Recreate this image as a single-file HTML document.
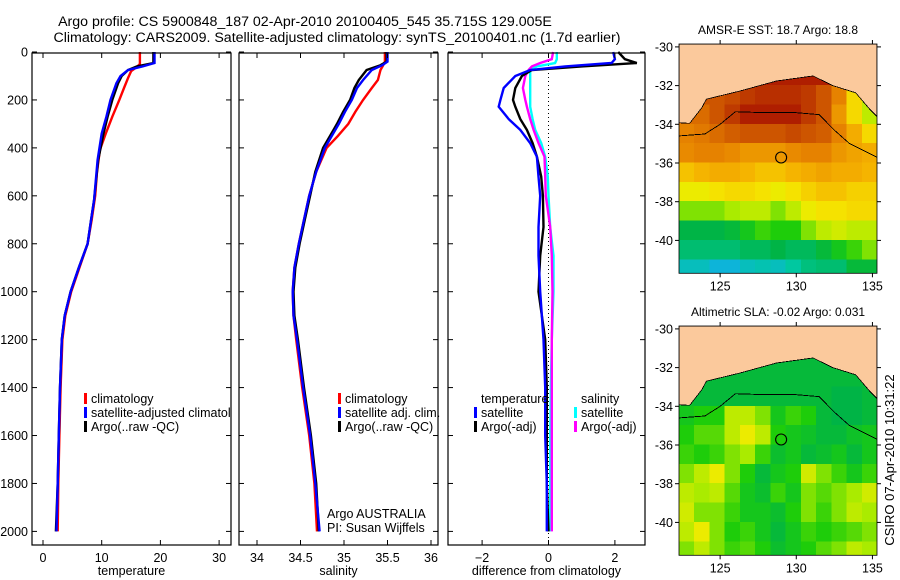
<!DOCTYPE html>
<html><head><meta charset="utf-8"><style>
body{margin:0;background:#fff;}
svg{display:block;font-family:"Liberation Sans",sans-serif;}
</style></head><body>
<svg id="fig" width="900" height="580" viewBox="0 0 900 580">
<text x="305" y="26" font-size="14.2" text-anchor="middle">Argo profile: CS 5900848_187 02-Apr-2010 20100405_545 35.715S 129.005E</text>
<text x="337" y="42" font-size="14.2" text-anchor="middle">Climatology: CARS2009. Satellite-adjusted climatology: synTS_20100401.nc (1.7d earlier)</text>
<g id="plots"></g>
<text transform="translate(894,460) rotate(-90)" font-size="13" text-anchor="middle">CSIRO 07-Apr-2010 10:31:22</text>
</svg>
<script>
// ---------- data ----------
const depthTicks=[0,200,400,600,800,1000,1200,1400,1600,1800,2000];
const tempTicks=[0,10,20,30];
const salTicks=[34,34.5,35,35.5,36];
const diffTicks=[-2,0,2];
const tempClimDepth=[0,50,62,80,108,150,200,270,340,408,500,600,700,800,900,1000,1100,1200,1400,1600,1800,2000];
const tempClim=[16.5,16.5,16,15,14.5,13.8,13,11.8,10.7,9.7,9.2,8.9,8.3,7.6,6.2,4.8,3.8,3.3,3.0,2.8,2.6,2.5];
const tempDepth=[0,46,60,75,100,130,200,270,340,450,617,700,800,900,1000,1100,1200,1400,1600,1800,2000];
const tempSat=[19,19,17,14.5,13.2,12.5,11.5,10.8,10,9.3,8.7,8.2,7.6,6.1,4.7,3.7,3.2,2.9,2.7,2.5,2.3];
const tempArgo=[18.8,18.8,16,14.5,13.4,12.8,11.8,11,10.3,9.4,8.7,8.2,7.6,6.1,4.7,3.7,3.2,2.9,2.7,2.5,2.2];
const salDepth=[0,40,55,75,117,150,200,250,300,350,400,500,600,700,800,900,1000,1100,1200,1400,1600,1800,2000];
const salClim=[35.47,35.47,35.45,35.42,35.39,35.32,35.22,35.13,35.05,34.93,34.8,34.68,34.6,34.54,34.48,34.43,34.41,34.42,34.45,34.52,34.6,34.66,34.69];
const salSat=[35.5,35.5,35.44,35.32,35.22,35.15,35.09,35.01,34.94,34.86,34.78,34.68,34.6,34.54,34.48,34.43,34.41,34.42,34.46,34.53,34.61,34.67,34.72];
const salArgo=[35.49,35.49,35.42,35.26,35.17,35.12,35.07,34.99,34.92,34.84,34.76,34.67,34.61,34.55,34.49,34.44,34.42,34.43,34.47,34.54,34.62,34.68,34.71];
const diffDepth=[0,30,46,60,75,100,150,200,228,280,325,380,437,520,600,730,850,1000,1200,1400,1600,1800,2000];
const diffTSat=[1.95,2.0,1.9,0.5,-0.55,-1.0,-1.35,-1.45,-1.5,-1.2,-0.85,-0.55,-0.35,-0.3,-0.25,-0.3,-0.3,-0.25,-0.15,-0.1,-0.1,-0.05,-0.05];
const diffTArgo=[2.1,2.3,2.66,1.0,-0.5,-0.8,-1.0,-1.07,-1.0,-0.85,-0.65,-0.48,-0.35,-0.22,-0.17,-0.15,-0.25,-0.3,-0.1,-0.05,-0.05,-0.05,0];
const diffSArgo=[0.14,0.1,-0.25,-0.5,-0.6,-0.7,-0.77,-0.7,-0.65,-0.55,-0.45,-0.3,-0.12,-0.1,-0.08,0.05,0.1,0.12,0.1,0.1,0.1,0.1,0.1];
const diffSSat=[0.25,0.25,0.2,-0.35,-0.55,-0.55,-0.55,-0.55,-0.55,-0.48,-0.4,-0.22,-0.1,-0.02,0,0.05,0.15,0.15,0.1,0.07,0.05,0.05,0.05];
const lonTicks=[125,130,135];
const latTicks=[-30,-32,-34,-36,-38,-40];
const sstGrid=[
[1,1,1,1,1,1,1,1,1,1,1,1,1],
[1,1,1,1,1,1,1,1,1,1,1,1,1],
[0.9,0.9,0.9,0.92,0.95,0.97,0.97,0.97,0.95,0.9,0.8,0.6,0.5],
[0.85,0.85,0.9,0.95,1,1,1,1,0.95,0.9,0.75,0.6,0.5],
[0.8,0.82,0.85,0.88,0.9,0.9,0.9,0.92,0.9,0.88,0.8,0.7,0.6],
[0.78,0.8,0.8,0.78,0.75,0.75,0.75,0.78,0.8,0.8,0.75,0.72,0.7],
[0.65,0.68,0.7,0.7,0.68,0.65,0.65,0.68,0.7,0.72,0.7,0.7,0.68],
[0.55,0.55,0.58,0.6,0.6,0.58,0.55,0.58,0.62,0.65,0.65,0.62,0.62],
[0.45,0.45,0.45,0.48,0.5,0.5,0.45,0.5,0.55,0.58,0.58,0.6,0.6],
[0.28,0.28,0.28,0.3,0.35,0.4,0.38,0.38,0.45,0.5,0.52,0.5,0.5],
[0.22,0.22,0.22,0.22,0.25,0.25,0.28,0.25,0.25,0.3,0.35,0.4,0.45],
[0.1,0.1,0.05,0.05,0.1,0.12,0.1,0.15,0.2,0.22,0.22,0.3,0.3]];
const slaGrid=[
[0.3,0.3,0.3,0.3,0.3,0.3,0.3,0.3,0.3,0.3,0.3,0.3,0.3],
[0.3,0.3,0.3,0.3,0.3,0.3,0.3,0.3,0.3,0.3,0.3,0.3,0.3],
[0.3,0.3,0.3,0.3,0.3,0.3,0.3,0.3,0.3,0.3,0.3,0.3,0.3],
[0.32,0.3,0.3,0.3,0.3,0.3,0.3,0.3,0.3,0.3,0.28,0.28,0.3],
[0.35,0.38,0.38,0.5,0.5,0.45,0.35,0.4,0.38,0.3,0.28,0.28,0.3],
[0.38,0.42,0.42,0.5,0.55,0.5,0.38,0.35,0.33,0.3,0.3,0.33,0.35],
[0.4,0.38,0.4,0.45,0.48,0.4,0.32,0.35,0.3,0.32,0.35,0.3,0.35],
[0.45,0.5,0.55,0.45,0.38,0.3,0.35,0.38,0.52,0.45,0.4,0.35,0.4],
[0.5,0.48,0.5,0.42,0.35,0.32,0.4,0.35,0.45,0.42,0.45,0.48,0.52],
[0.52,0.45,0.45,0.4,0.35,0.35,0.32,0.38,0.45,0.4,0.45,0.5,0.48],
[0.5,0.55,0.45,0.38,0.4,0.35,0.3,0.35,0.4,0.38,0.4,0.42,0.45],
[0.45,0.5,0.45,0.4,0.42,0.38,0.32,0.35,0.38,0.42,0.45,0.5,0.48]];
const coastLon=[122.3,123,123.8,124.1,126.3,128.7,131.1,132.4,133.9,134.8,135.3];
const coastLat=[-33.92,-33.95,-33.14,-32.7,-32.28,-31.76,-31.5,-32.0,-32.37,-33.2,-33.6];
const shelfLon=[122.3,124,125,126,128,130,131.5,132.5,133.5,135.3];
const shelfLat=[-34.6,-34.5,-34.0,-33.35,-33.4,-33.4,-33.5,-34.3,-35.0,-35.7];
const floatLon=129.005, floatLat=-35.715;

// ---------- helpers ----------
const NS='http://www.w3.org/2000/svg';
const root=document.getElementById('plots');
function mk(tag,attrs,parent){const e=document.createElementNS(NS,tag);for(const k in attrs)e.setAttribute(k,attrs[k]);(parent||root).appendChild(e);return e;}
const TOP=53,BOT=545,D0=52,DS=0.2397;
const yD=d=>D0+DS*d;
function panel(name,L,R,x,ticks,fmt,label,series,depths){
  const g=mk('g',{});
  
  
  for(const s of series){
    const dep=s.depth||depths;
    const pts=s.vals.map((v,i)=>x(v).toFixed(1)+','+yD(dep[i]).toFixed(1)).join(' ');
    const p=mk('polyline',{points:pts,fill:'none',stroke:s.color,'stroke-width':2.4,'stroke-linejoin':'miter'},g);
    
    
  }
  mk('rect',{x:L,y:TOP,width:R-L,height:BOT-TOP,fill:'none',stroke:'#000','stroke-width':1.2},g);
  for(const t of ticks){
    const xx=x(t);
    mk('line',{x1:xx,x2:xx,y1:BOT,y2:BOT-5,stroke:'#000'},g);
    mk('line',{x1:xx,x2:xx,y1:TOP,y2:TOP+5,stroke:'#000'},g);
    const tl=mk('text',{x:xx,y:BOT+17,'font-size':12.5,'text-anchor':'middle'},g);tl.textContent=fmt(t);
    
    
  }
  for(const d of depthTicks){
    const yy=yD(d);
    mk('line',{x1:L,x2:L+5,y1:yy,y2:yy,stroke:'#000'},g);
    mk('line',{x1:R,x2:R-5,y1:yy,y2:yy,stroke:'#000'},g);
  }
  const xl=mk('text',{x:(L+R)/2,y:575,'font-size':12.5,'text-anchor':'middle'},g);xl.textContent=label;
  
  
  return g;
}
for(const d of depthTicks){
  const t=mk('text',{x:28,y:yD(d)+4.5,'font-size':12.5,'text-anchor':'end'});t.textContent=d;
  
  
}
const xT=v=>43+5.87*v, xS=v=>257+87*(v-34), xDf=v=>548.5+33.2*v;
panel('temperature-panel',32,231,xT,tempTicks,String,'temperature',[
 {name:'temp-climatology-line',color:'#f00',vals:tempClim,depth:tempClimDepth},
 {name:'temp-argo-line',color:'#000',vals:tempArgo},
 {name:'temp-satellite-line',color:'#0000ff',vals:tempSat}],tempDepth);
panel('salinity-panel',239,438,xS,salTicks,String,'salinity',[
 {name:'sal-climatology-line',color:'#f00',vals:salClim},
 {name:'sal-argo-line',color:'#000',vals:salArgo},
 {name:'sal-satellite-line',color:'#0000ff',vals:salSat}],salDepth);
const zl=mk('line',{x1:xDf(0),x2:xDf(0),y1:TOP,y2:BOT,stroke:'#000','stroke-dasharray':'1,3'});


panel('difference-panel',448,645,xDf,diffTicks,v=>v<0?'\u2212'+(-v):String(v),'difference from climatology',[
 {name:'diff-sal-satellite-line',color:'#00ffff',vals:diffSSat},
 {name:'diff-sal-argo-line',color:'#ff00ff',vals:diffSArgo},
 {name:'diff-temp-argo-line',color:'#000',vals:diffTArgo},
 {name:'diff-temp-satellite-line',color:'#0000ff',vals:diffTSat}],diffDepth);

function legend(items,clip){
  for(const it of items){
    if(it.color){const m=mk('rect',{x:it.x-7,y:it.y-10,width:3,height:11,fill:it.color});
      
      }
    const t=mk('text',{x:it.x,y:it.y,'font-size':12.5});t.textContent=it.text;
    if(clip)t.setAttribute('clip-path','url(#clip1)');
    
    
  }
}
const cp=mk('clipPath',{id:'clip1'});mk('rect',{x:32,y:0,width:199,height:580},cp);
legend([{x:91,y:403,text:'climatology',color:'#f00'},{x:91,y:417,text:'satellite-adjusted climatology',color:'#00f'},{x:91,y:431,text:'Argo(..raw -QC)',color:'#000'}],true);
legend([{x:345,y:403,text:'climatology',color:'#f00'},{x:345,y:417,text:'satellite adj. clim.',color:'#00f'},{x:345,y:431,text:'Argo(..raw -QC)',color:'#000'}]);
legend([{x:481,y:403,text:'temperature'},{x:481,y:417,text:'satellite',color:'#00f'},{x:481,y:431,text:'Argo(-adj)',color:'#000'},
 {x:581,y:403,text:'salinity'},{x:581,y:417,text:'satellite',color:'#0ff'},{x:581,y:431,text:'Argo(-adj)',color:'#f0f'}]);
const a1=mk('text',{x:327,y:518,'font-size':12.5});a1.textContent='Argo AUSTRALIA';


const a2=mk('text',{x:327,y:532,'font-size':12.5});a2.textContent='PI: Susan Wijffels';



// ---------- maps ----------
const cstops=[[0,[20,170,245]],[0.15,[0,200,160]],[0.28,[0,180,70]],[0.38,[30,205,10]],[0.48,[170,235,0]],[0.56,[245,235,0]],[0.68,[245,180,0]],[0.8,[230,130,0]],[0.9,[205,85,0]],[1,[175,30,0]]];
function cmap(v){for(let i=1;i<cstops.length;i++){if(v<=cstops[i][0]){const a=cstops[i-1],b=cstops[i],t=(v-a[0])/(b[0]-a[0]);return 'rgb('+a[1].map((c,k)=>Math.round(c+(b[1][k]-c)*t)).join(',')+')';}}return 'rgb(175,30,0)';}
function map(name,title,grid,top){
  const L=679,R=877,lon0=122.3,lon1=135.3,latTop=-29.85,pxLat=19.35;
  const xL=lo=>L+(lo-lon0)*(R-L)/(lon1-lon0), yL=la=>top+(latTop-la)*pxLat;
  const bottom=yL(-41.7);
  const g=mk('g',{});
  
  
  const cid='mc'+top;const c=mk('clipPath',{id:cid},g);mk('rect',{x:L,y:top,width:R-L,height:bottom-top},c);
  const cells=mk('g',{'clip-path':'url(#'+cid+')','shape-rendering':'crispEdges'},g);
  grid.forEach((row,r)=>row.forEach((v,ci)=>{
    const x0=xL(lon0+ci),y0=yL(-30-r);
    const cell=mk('rect',{x:x0,y:y0-0.5,width:xL(lon0+ci+1)-x0+0.5,height:pxLat+1,fill:cmap(v)},cells);
    
    
  }));
  let pts=coastLon.map((lo,i)=>xL(lo)+','+yL(coastLat[i])).join(' ');
  pts+=' '+xL(lon1)+','+top+' '+L+','+top;
  const land=mk('polygon',{points:pts,fill:'#fbc99c',stroke:'#000','stroke-width':0.8},cells);
  
  
  const sh=mk('polyline',{points:shelfLon.map((lo,i)=>xL(lo)+','+yL(shelfLat[i])).join(' '),fill:'none',stroke:'#000','stroke-width':0.9},cells);
  
  
  const fc=mk('circle',{cx:xL(floatLon),cy:yL(floatLat),r:5.5,fill:'none',stroke:'#000','stroke-width':1.1},g);
  
  
  mk('rect',{x:L,y:top,width:R-L,height:bottom-top,fill:'none',stroke:'#000','stroke-width':0.8},g);
  for(const lo of lonTicks){const xx=xL(lo);
    mk('line',{x1:xx,x2:xx,y1:bottom,y2:bottom+4,stroke:'#000'},g);
    mk('line',{x1:xx,x2:xx,y1:top,y2:top-4,stroke:'#000'},g);
    const t=mk('text',{x:xx,y:bottom+17,'font-size':12.5,'text-anchor':'middle'},g);t.textContent=lo;
    
    }
  for(const la of latTicks){const yy=yL(la);
    mk('line',{x1:L,x2:L-4,y1:yy,y2:yy,stroke:'#000'},g);
    mk('line',{x1:R,x2:R+4,y1:yy,y2:yy,stroke:'#000'},g);
    const t=mk('text',{x:L-6,y:yy+4.5,'font-size':12.5,'text-anchor':'end'},g);t.textContent='-'+(-la);
    
    }
  const tt=mk('text',{x:(L+R)/2,y:top-10,'font-size':12,'text-anchor':'middle'},g);tt.textContent=title;
  
  
}
map('sst-map','AMSR-E SST: 18.7 Argo: 18.8',sstGrid,44);
map('sla-map','Altimetric SLA: -0.02 Argo: 0.031',slaGrid,326);
</script>
</body></html>
